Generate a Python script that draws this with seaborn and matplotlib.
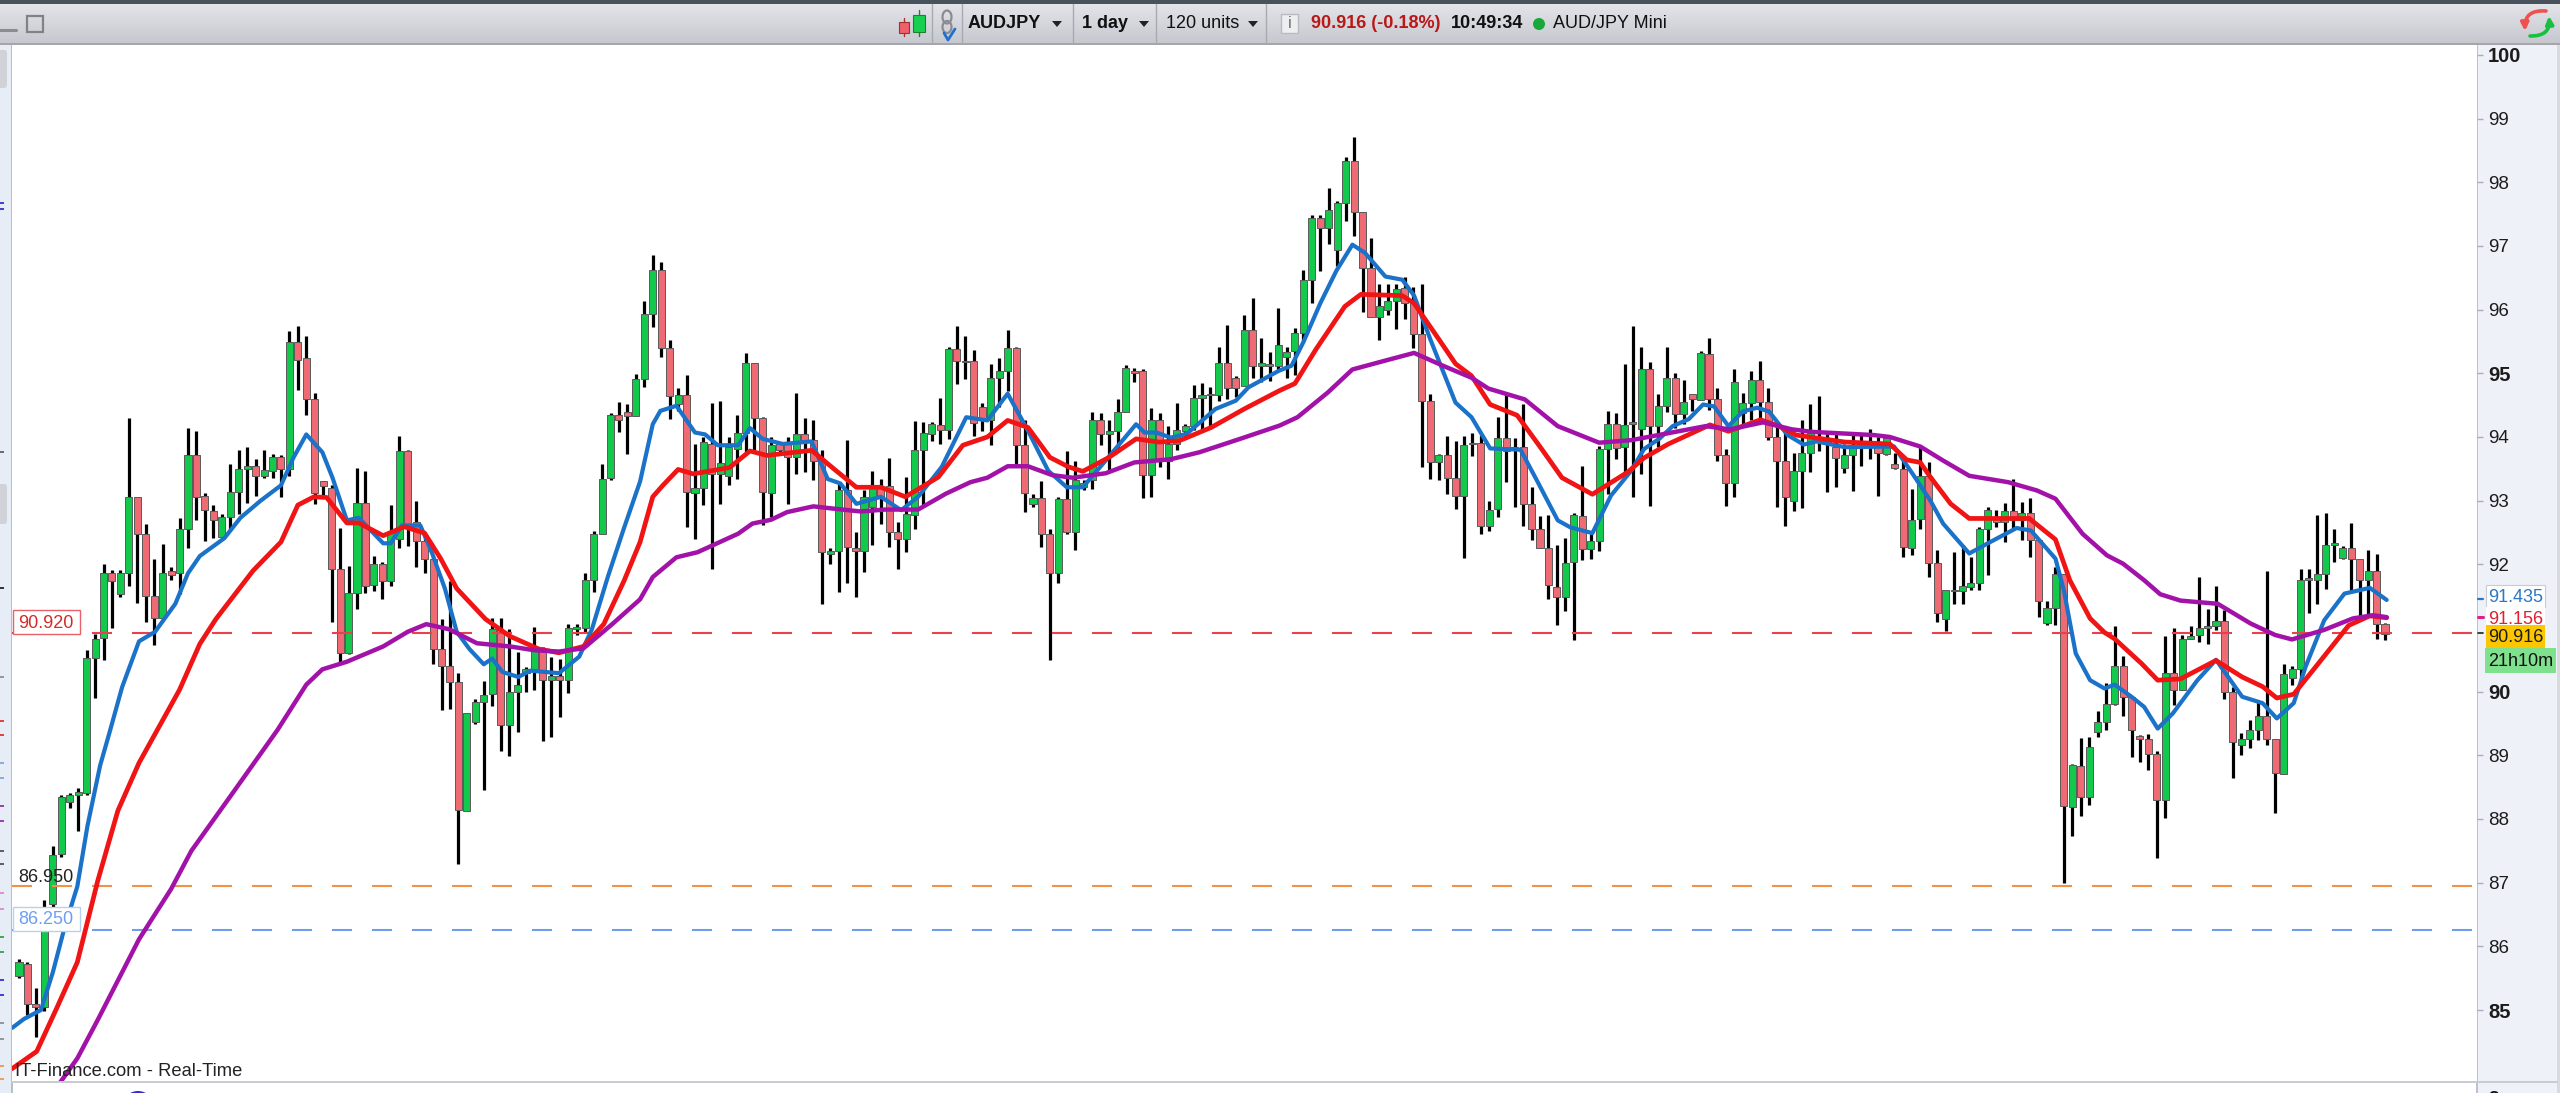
import matplotlib
matplotlib.use("Agg")
import matplotlib.pyplot as plt
from matplotlib.patches import Rectangle, Circle, Ellipse, FancyBboxPatch
import numpy as np
import seaborn as sns

# candles (body top / body bottom / wick high / wick low)
directions = ("GRRGGGGGGG" "GRGGRRRGRG" "GRRRGGGGRG" "GRGRRRRRRG" "GRGRGGRRRR"
              "RRRGGGGRGG" "GGRGRGGGGG" "GRRGGGRRGR" "GGRGGGGRRG" "RRGRRRGGRR"
              "GGRRRGGGGR" "GRRRRGGGRR" "GRRGRGGGRG" "GGRRGRGGGG" "GGGRRGRGGG"
              "GGGGRGGGRR" "RGGGRRRRGR" "RGGRGGRRRR" "RRRGGRGGGR" "GGGRGGRGRG"
              "RRRGGGRRRR" "GGGRRRGGGR" "RGRRGGRRGG" "GGGGRGRGRR" "GGRGRGGGGR"
              "RRRRGRGGGG" "GRRGGGRRGG" "GGGGGGRRGRR")

body_tops = [85.75, 85.73, 85.09, 86.62, 87.43, 88.34, 88.37, 88.42, 90.53, 90.83,
             91.86, 91.86, 91.87, 93.05, 93.05, 92.48, 91.5, 91.87, 91.9, 92.55,
             93.72, 93.72, 93.07, 92.83, 92.75, 93.13, 93.5, 93.54, 93.54, 93.48,
             93.68, 93.68, 95.49, 95.49, 95.24, 94.59, 93.31, 93.2, 91.92, 91.55,
             92.96, 92.96, 92.01, 92.01, 92.49, 93.78, 93.78, 92.67, 92.36, 92.09,
             90.67, 90.41, 90.15, 89.67, 89.83, 89.95, 90.98, 90.97, 89.99, 90.1,
             90.35, 90.67, 90.67, 90.25, 90.25, 91.0, 91.02, 91.76, 92.48, 93.34,
             94.35, 94.35, 94.39, 94.91, 95.93, 96.62, 96.62, 95.4, 94.66, 94.66,
             93.2, 93.92, 93.89, 93.59, 93.84, 94.06, 95.16, 95.16, 94.3, 93.88,
             93.89, 93.89, 94.04, 94.04, 93.95, 93.63, 92.21, 93.17, 93.17, 92.26,
             93.06, 93.21, 93.2, 93.23, 92.5, 92.79, 93.8, 94.06, 94.2, 94.19,
             95.38, 95.38, 95.2, 95.19, 94.47, 94.93, 95.03, 95.4, 95.4, 93.88,
             93.04, 93.04, 92.47, 93.02, 93.02, 93.32, 93.28, 94.27, 94.27, 94.09,
             94.4, 95.08, 95.03, 95.03, 94.27, 94.27, 93.89, 94.11, 94.18, 94.61,
             94.66, 94.68, 95.16, 95.16, 94.93, 95.68, 95.68, 95.16, 95.15, 95.45,
             95.33, 95.63, 96.47, 97.44, 97.44, 97.56, 97.67, 98.33, 98.33, 97.54,
             96.65, 96.05, 96.13, 96.33, 96.34, 96.1, 95.61, 94.56, 93.72, 93.72,
             93.36, 93.88, 93.91, 93.91, 92.86, 93.98, 93.98, 93.84, 93.84, 92.94,
             92.56, 92.26, 91.65, 92.02, 92.77, 92.76, 92.36, 93.81, 94.21, 94.21,
             94.19, 94.24, 95.06, 95.06, 94.48, 94.93, 94.92, 94.55, 94.67, 95.32,
             95.31, 94.6, 93.72, 94.87, 94.53, 94.89, 94.89, 94.55, 94.0, 93.62,
             93.46, 93.75, 94.06, 93.97, 93.95, 93.84, 93.72, 93.85, 93.87, 93.9,
             93.84, 93.99, 93.58, 93.5, 92.7, 93.39, 93.38, 92.02, 91.6, 91.6,
             91.66, 91.71, 92.56, 92.85, 92.73, 92.84, 92.84, 92.8, 92.8, 92.38,
             91.32, 91.84, 91.84, 88.85, 88.83, 89.13, 89.52, 89.81, 90.4, 90.4,
             89.92, 89.31, 89.26, 89.02, 90.3, 90.3, 90.82, 90.88, 91.0, 91.03,
             91.11, 91.11, 89.99, 89.26, 89.39, 89.62, 89.62, 89.26, 90.27, 90.35,
             91.76, 91.79, 91.84, 92.31, 92.33, 92.26, 92.26, 92.08, 91.89, 91.89, 91.06]

body_bottoms = [85.53, 85.10, 85.05, 85.05, 86.66, 87.45, 88.26, 88.37, 88.41, 90.53,
                90.84, 91.74, 91.54, 91.87, 92.48, 91.5, 91.16, 91.16, 91.83, 91.86,
                92.55, 93.05, 92.85, 92.7, 92.43, 92.75, 93.13, 93.5, 93.39, 93.39,
                93.47, 93.5, 93.5, 95.21, 94.59, 93.12, 93.23, 91.92, 90.61, 90.61,
                91.55, 91.66, 91.68, 91.74, 91.74, 92.4, 92.57, 92.36, 92.09, 90.67,
                90.41, 90.15, 88.14, 88.13, 89.52, 89.83, 89.97, 89.48, 89.48, 89.99,
                90.29, 90.35, 90.19, 90.19, 90.19, 90.19, 90.98, 91.0, 91.76, 92.48,
                93.35, 94.27, 94.33, 94.33, 94.91, 95.93, 95.4, 94.64, 94.51, 93.13,
                93.12, 93.2, 93.42, 93.42, 93.39, 93.81, 94.07, 94.3, 93.13, 93.12,
                93.79, 93.68, 93.68, 93.95, 93.63, 92.19, 92.16, 92.21, 92.27, 92.21,
                92.21, 92.9, 93.06, 92.5, 92.39, 92.39, 92.78, 93.8, 94.04, 94.11,
                94.11, 95.19, 95.18, 94.22, 94.27, 94.26, 94.93, 95.03, 93.88, 93.12,
                92.95, 92.47, 91.87, 91.87, 92.5, 92.5, 93.22, 93.32, 94.05, 94.04,
                94.09, 94.4, 95.0, 93.4, 93.4, 93.63, 93.63, 93.89, 94.1, 94.18,
                94.61, 94.66, 94.66, 94.77, 94.77, 94.8, 95.12, 95.12, 95.12, 95.12,
                95.26, 95.35, 95.63, 96.47, 97.28, 97.28, 96.94, 97.67, 97.54, 96.65,
                95.89, 95.89, 96.0, 96.13, 96.1, 95.61, 94.56, 93.6, 93.6, 93.36,
                93.07, 93.08, 93.89, 92.6, 92.6, 92.87, 93.78, 93.81, 92.94, 92.56,
                92.26, 91.67, 91.49, 91.49, 92.03, 92.24, 92.24, 92.36, 93.81, 93.83,
                93.84, 94.2, 94.12, 94.17, 94.17, 94.48, 94.36, 94.36, 94.59, 94.58,
                94.6, 93.72, 93.28, 93.28, 94.37, 94.54, 94.55, 94.0, 93.62, 93.05,
                93.0, 93.47, 93.75, 93.92, 93.89, 93.67, 93.52, 93.72, 93.85, 93.87,
                93.75, 93.74, 93.52, 92.27, 92.26, 92.71, 92.02, 91.24, 91.14, 91.58,
                91.58, 91.64, 91.71, 92.55, 92.66, 92.66, 92.69, 92.69, 92.38, 91.43,
                91.08, 91.32, 88.2, 88.19, 88.34, 88.34, 89.36, 89.52, 89.81, 89.92,
                89.4, 89.26, 89.02, 88.3, 88.3, 90.03, 90.02, 90.82, 90.89, 91.0,
                91.03, 89.99, 89.21, 89.16, 89.26, 89.4, 89.26, 88.72, 88.71, 90.21,
                90.35, 91.76, 91.76, 91.84, 92.31, 92.1, 92.08, 91.75, 91.75, 91.07, 90.91]

highs = [85.8, 85.76, 85.35, 86.72, 87.57, 88.37, 88.41, 88.48, 90.65, 90.9,
         92.0, 91.91, 91.91, 94.3, 93.05, 92.63, 92.08, 92.32, 91.95, 92.73,
         94.14, 94.1, 93.12, 92.93, 92.79, 93.58, 93.8, 93.84, 93.66, 93.8,
         93.74, 93.72, 95.66, 95.74, 95.58, 94.69, 93.31, 93.24, 92.57, 91.97,
         93.52, 93.47, 92.13, 92.03, 92.93, 94.01, 93.8, 92.99, 92.41, 92.13,
         91.14, 91.74, 90.29, 89.67, 89.89, 90.17, 91.16, 91.16, 90.98, 90.63,
         90.39, 91.02, 90.7, 90.55, 90.51, 91.06, 91.06, 91.86, 92.53, 93.58,
         94.38, 94.55, 94.51, 94.99, 96.13, 96.86, 96.75, 95.53, 94.77, 94.98,
         93.89, 94.0, 94.53, 94.56, 94.0, 94.35, 95.32, 95.16, 94.31, 94.0,
         93.92, 94.0, 94.69, 94.3, 94.27, 93.79, 92.25, 93.29, 93.96, 92.51,
         93.16, 93.47, 93.34, 93.67, 92.66, 93.37, 94.25, 94.23, 94.23, 94.61,
         95.41, 95.74, 95.58, 95.37, 94.53, 95.15, 95.24, 95.68, 95.42, 94.26,
         93.11, 93.31, 92.55, 93.06, 93.78, 93.63, 93.32, 94.4, 94.38, 94.27,
         94.59, 95.13, 95.09, 95.06, 94.46, 94.38, 94.17, 94.53, 94.21, 94.82,
         94.85, 94.79, 95.42, 95.76, 94.95, 95.92, 96.18, 95.55, 95.34, 96.02,
         95.42, 95.71, 96.62, 97.48, 97.48, 97.91, 97.7, 98.4, 98.71, 97.54,
         97.12, 96.41, 96.41, 96.41, 96.51, 96.36, 96.4, 94.67, 93.74, 94.02,
         93.94, 94.02, 94.06, 94.03, 93.0, 94.32, 94.68, 93.98, 94.51, 93.22,
         92.76, 92.77, 92.31, 92.41, 92.81, 93.54, 92.47, 93.86, 94.41, 94.38,
         95.14, 95.74, 95.42, 95.18, 94.68, 95.42, 95.0, 94.9, 94.67, 95.35,
         95.56, 94.77, 93.81, 95.06, 94.69, 95.03, 95.19, 94.77, 94.17, 94.12,
         93.75, 94.27, 94.51, 94.64, 94.09, 94.09, 93.89, 94.06, 94.03, 94.13,
         94.0, 94.03, 93.75, 93.67, 93.18, 93.85, 93.6, 92.23, 91.6, 92.19,
         92.31, 92.11, 92.58, 92.9, 92.86, 92.97, 93.34, 92.98, 93.04, 92.4,
         91.43, 91.95, 91.85, 88.86, 89.27, 89.28, 89.7, 90.13, 91.03, 90.56,
         89.92, 89.32, 89.34, 89.07, 90.88, 91.0, 90.89, 91.03, 91.8, 91.3,
         91.66, 91.28, 90.07, 89.35, 89.55, 89.83, 91.9, 89.26, 90.43, 90.41,
         91.92, 91.92, 92.78, 92.81, 92.55, 92.29, 92.65, 92.09, 92.23, 92.16, 91.08]

lows = [85.5, 84.92, 84.58, 84.98, 86.6, 87.41, 88.17, 87.81, 88.38, 89.9,
        90.49, 91.0, 91.48, 91.66, 91.4, 91.1, 90.73, 91.13, 91.76, 91.54,
        92.25, 92.69, 92.37, 92.41, 92.41, 92.53, 92.79, 92.96, 93.07, 93.35,
        93.36, 93.05, 93.39, 94.73, 94.35, 92.95, 93.09, 91.1, 90.45, 90.59,
        91.3, 91.55, 91.58, 91.46, 91.66, 92.25, 92.28, 91.96, 91.86, 90.44,
        89.71, 89.73, 87.3, 88.13, 89.49, 88.45, 89.77, 89.06, 88.99, 89.36,
        89.99, 90.03, 89.22, 89.28, 89.6, 89.98, 90.89, 90.94, 91.56, 92.82,
        93.32, 94.08, 93.74, 94.33, 94.78, 95.72, 95.25, 94.28, 94.41, 92.59,
        92.4, 92.93, 91.93, 92.95, 93.24, 93.34, 93.76, 93.79, 92.62, 92.74,
        93.72, 92.95, 93.42, 93.45, 93.32, 91.38, 92.01, 91.57, 91.7, 91.49,
        91.88, 92.3, 92.64, 92.27, 91.93, 92.2, 92.56, 92.9, 93.94, 93.89,
        93.97, 94.83, 94.91, 94.02, 94.1, 93.87, 94.47, 94.72, 93.58, 92.82,
        92.9, 92.27, 90.5, 91.7, 92.48, 92.22, 93.17, 93.19, 93.87, 93.46,
        93.79, 94.39, 94.86, 93.04, 93.06, 93.53, 93.34, 93.79, 93.97, 94.11,
        94.11, 94.18, 94.57, 94.6, 94.62, 94.8, 94.93, 94.86, 94.88, 95.04,
        94.92, 94.98, 95.49, 96.1, 96.61, 97.03, 96.69, 97.39, 97.16, 95.96,
        95.89, 95.52, 95.91, 95.7, 95.85, 95.4, 93.53, 93.34, 93.32, 93.11,
        92.87, 92.1, 93.7, 92.48, 92.53, 92.75, 93.3, 92.9, 92.6, 92.38,
        92.26, 91.46, 91.05, 91.26, 90.81, 92.06, 92.09, 92.21, 93.11, 93.65,
        93.42, 93.05, 93.42, 92.92, 93.84, 94.4, 94.14, 94.2, 94.41, 94.58,
        94.42, 93.63, 92.92, 93.05, 94.2, 94.26, 94.28, 93.95, 92.9, 92.6,
        92.83, 92.88, 93.45, 93.78, 93.14, 93.22, 93.43, 93.15, 93.54, 93.65,
        93.08, 93.72, 93.5, 92.12, 92.14, 92.56, 91.8, 91.09, 90.96, 91.38,
        91.38, 91.59, 91.59, 91.83, 92.58, 92.35, 92.57, 92.38, 92.11, 91.17,
        91.04, 91.04, 86.99, 87.73, 88.04, 88.22, 89.29, 89.4, 89.79, 89.61,
        88.98, 88.9, 88.77, 87.39, 88.01, 89.79, 90.02, 90.82, 90.78, 90.75,
        90.97, 89.89, 88.64, 89.0, 89.11, 89.24, 89.16, 88.09, 88.71, 90.1,
        90.18, 91.23, 91.38, 91.62, 92.04, 92.09, 91.57, 91.17, 91.17, 90.83, 90.81]

# moving averages, vertices
blue_x = [-0.8, 0.6, 2.6, 4, 5.4, 6.9, 8.1, 9.6, 10.8, 12.2, 14.2, 16.1, 18.5, 20, 21.4, 24.3, 26.2, 28.6,
          31, 32.5, 34, 35.9, 37.1, 38.8, 40.2, 43.1, 44, 45.3, 47.5, 48.9, 50.4, 51.8, 53.3, 55, 56, 57.2,
          59.1, 60.5, 63.9, 66.3, 67.8, 69.7, 71.6, 73.5, 75, 75.9, 77.8, 80, 81.2, 82.7, 85.1, 86.5, 88,
          90.4, 93.8, 95.7, 97.2, 99.1, 102, 104.4, 106.4, 109.2, 112.1, 114.6, 117, 119.4, 121.8, 124,
          125.9, 128.6, 132.2, 133.2, 134.6, 136.3, 138.2, 141.6, 144, 145.5, 149.1, 150.6, 152, 154, 155.9,
          157.8, 159.3, 161.7, 163.7, 165.1, 167, 170, 171.9, 174.1, 177.7, 179.7, 182.1, 183.6, 186.2,
          188.4, 190.8, 192.3, 194.2, 195.7, 197.6, 199.3, 200.6, 202.3, 204, 205.7, 207.1, 209.3, 211.2,
          212.7, 216.1, 221.9, 224.1, 226.2, 227.7, 230.8, 233, 236.4, 238.1, 241, 242, 243.4, 245.1, 246.8,
          248, 250, 251.5, 253.1, 254.9, 257.8, 260, 263.1, 265.5, 267.2, 269.2, 270.6, 272.8, 275.2, 278.2, 280.2]
blue_y = [84.72, 84.86, 85.0, 85.59, 86.3, 86.94, 87.89, 88.84, 89.4, 90.07, 90.79, 90.94, 91.38, 91.86, 92.13,
          92.41, 92.73, 93.0, 93.24, 93.68, 94.04, 93.76, 93.36, 92.69, 92.73, 92.33, 92.33, 92.61, 92.61,
          92.17, 91.62, 90.94, 90.67, 90.43, 90.52, 90.31, 90.23, 90.33, 90.29, 90.55, 90.98, 91.81, 92.57,
          93.3, 94.2, 94.41, 94.49, 94.07, 94.04, 93.87, 93.87, 94.14, 93.97, 93.89, 93.93, 93.34, 93.27,
          92.95, 93.06, 92.85, 93.06, 93.53, 94.31, 94.26, 94.68, 94.1, 93.47, 93.21, 93.21, 93.63, 94.2,
          94.07, 94.07, 93.99, 94.05, 94.44, 94.57, 94.78, 95.04, 95.12, 95.49, 96.1, 96.61, 97.02, 96.89,
          96.52, 96.47, 96.22, 95.54, 94.54, 94.31, 93.82, 93.8, 93.3, 92.69, 92.58, 92.49, 93.08, 93.47,
          93.81, 93.98, 94.17, 94.28, 94.51, 94.48, 94.17, 94.4, 94.46, 94.4, 94.03, 93.88, 93.93, 93.84,
          93.85, 93.42, 93.0, 92.64, 92.17, 92.33, 92.57, 92.53, 92.09, 91.59, 90.6, 90.18, 90.05, 90.11,
          89.92, 89.76, 89.42, 89.66, 90.18, 90.5, 89.92, 89.82, 89.58, 89.82, 90.39, 91.12, 91.54, 91.63, 91.44]

red_x = [-0.8, 2.1, 4.5, 6.9, 9.3, 11.7, 14.2, 17.5, 19, 21.4, 23.3, 27.7, 31, 33, 34.9, 36.4, 38.8, 40.2, 43.1,
         45.6, 48, 49.9, 51.8, 55.2, 58.1, 61.5, 63.9, 66.8, 69.2, 71.6, 73.5, 75, 76.2, 78, 79.8, 84.1, 86.5,
         88.5, 93.8, 96.7, 99.1, 102, 104.9, 108.8, 111.7, 114.6, 117, 119.4, 122, 124.2, 125.9, 129, 132.2,
         134.9, 137.3, 141.1, 145, 149.2, 151, 153.5, 156.9, 158.8, 163.7, 165.1, 168, 170, 171.9, 174.1,
         177.3, 180.2, 182.6, 186.2, 190.4, 192.3, 195.2, 200.1, 202.3, 206.1, 208.3, 210.3, 216.1, 221.4,
         223.4, 225, 226.2, 228.6, 230.8, 233.5, 237.9, 241, 242.7, 245.1, 246.8, 248, 251.2, 253.1, 255.8,
         260, 263.1, 265.5, 267.2, 269.2, 271.8, 275.7, 278.2, 280.2]
red_y = [84.08, 84.35, 85.04, 85.75, 87.02, 88.13, 88.88, 89.67, 90.03, 90.75, 91.14, 91.9, 92.35, 92.93, 93.06,
         93.05, 92.65, 92.65, 92.45, 92.59, 92.49, 92.09, 91.62, 91.14, 90.87, 90.67, 90.61, 90.71, 91.06,
         91.74, 92.35, 93.06, 93.24, 93.49, 93.42, 93.52, 93.78, 93.71, 93.79, 93.47, 93.21, 93.21, 93.06,
         93.37, 93.87, 94.0, 94.26, 94.15, 93.68, 93.53, 93.46, 93.68, 93.97, 93.92, 93.94, 94.15, 94.44,
         94.73, 94.84, 95.38, 96.05, 96.24, 96.22, 96.1, 95.54, 95.15, 94.96, 94.51, 94.34, 93.81, 93.36,
         93.1, 93.45, 93.67, 93.89, 94.19, 94.09, 94.27, 94.17, 94.03, 93.92, 93.89, 93.64, 93.6, 93.37,
         92.95, 92.72, 92.72, 92.72, 92.39, 91.75, 91.15, 90.93, 90.83, 90.44, 90.18, 90.2, 90.49, 90.23,
         90.08, 89.9, 89.96, 90.39, 91.04, 91.19, 91.16]

purple_x = [4, 6.9, 9.3, 14.2, 18, 20.4, 25.3, 30.6, 34, 35.9, 38.8, 43.1, 46, 48.2, 50.9, 54.2, 58.1, 61, 63.9,
            66.8, 70.2, 73.5, 75, 77.8, 80.3, 85.1, 86.8, 89, 90.9, 94, 96.7, 99.6, 102.5, 106.4, 109.7, 112.6,
            114.6, 117, 119.4, 122.3, 124.7, 128.6, 132, 136.3, 139.7, 144.5, 149.2, 151.3, 154.9, 157.8, 161.7,
            165.1, 168.5, 171.9, 173.9, 178.2, 182.1, 187, 190.8, 195.2, 199.6, 202.5, 206.4, 209.8, 212.2,
            219.5, 221.4, 225, 227.7, 230.8, 235.4, 238.8, 241, 244.2, 247.1, 249, 251.5, 253.4, 255.8, 260.2,
            264.1, 267, 269, 272.8, 276.2, 278.6, 280.2]
purple_y = [83.7, 84.24, 84.84, 86.11, 86.9, 87.5, 88.41, 89.4, 90.11, 90.35, 90.47, 90.71, 90.94, 91.06, 90.98,
            90.76, 90.71, 90.65, 90.63, 90.68, 91.06, 91.45, 91.8, 92.11, 92.19, 92.48, 92.64, 92.7, 92.82,
            92.91, 92.87, 92.83, 92.86, 92.86, 93.11, 93.29, 93.36, 93.54, 93.54, 93.4, 93.36, 93.43, 93.6,
            93.65, 93.76, 93.97, 94.18, 94.31, 94.7, 95.06, 95.2, 95.32, 95.12, 94.93, 94.76, 94.59, 94.17,
            93.91, 93.95, 94.06, 94.17, 94.12, 94.23, 94.12, 94.08, 94.03, 94.0, 93.85, 93.63, 93.39, 93.29,
            93.16, 93.03, 92.48, 92.14, 92.01, 91.75, 91.53, 91.43, 91.38, 91.07, 90.89, 90.82, 90.97, 91.15,
            91.2, 91.17]

y_ticks = [85, 86, 87, 88, 89, 90, 92, 93, 94, 95, 96, 97, 98, 99, 100]
bold_ticks = [85, 90, 95, 100]
level_values = [90.92, 86.95, 86.25]
level_colors = ['#e8414c', '#f0924a', '#6f9ef0']

W, H = 2560, 1093
sns.set_theme(style="white")
plt.rcParams['font.family'] = ['Liberation Sans', 'DejaVu Sans']

fig = plt.figure(figsize=(W / 100, H / 100), dpi=100, facecolor='white')


def px_axes(zorder):
    a = fig.add_axes([0, 0, 1, 1], zorder=zorder)
    a.set_xlim(0, W)
    a.set_ylim(H, 0)
    a.axis('off')
    a.patch.set_alpha(0)
    return a


back = px_axes(0)

# side panels and toolbar chrome
back.add_patch(Rectangle((0, 44), 11, H, color='#e6edf6', lw=0))
back.add_patch(Rectangle((11, 44), 2, H, color='#b8bdc6', lw=0))
back.add_patch(Rectangle((2477, 44), 80, H, color='#eef1f8', lw=0))
back.add_patch(Rectangle((2476, 44), 2, H, color='#bcc2cc', lw=0))
back.add_patch(Rectangle((2557, 44), 3, H, color='#d8dade', lw=0))
back.add_patch(FancyBboxPatch((-6, 50), 13, 38, boxstyle='round,pad=0,rounding_size=3', color='#d0d2d8', lw=0))
back.add_patch(FancyBboxPatch((-6, 484), 13, 40, boxstyle='round,pad=0,rounding_size=3', color='#d0d2d8', lw=0))
side_marks = [(452, '#555'), (588, '#111'), (677, '#888'), (721, '#e02020'), (735, '#e02020'), (763, '#7a9ee0'),
              (778, '#7a9ee0'), (806, '#9020a0'), (821, '#9020a0'), (851, '#444'), (864, '#444'), (893, '#e080c0'),
              (909, '#e080c0'), (937, '#20a030'), (952, '#20a030'), (980, '#2020d0'), (995, '#2020d0'),
              (1023, '#888'), (1039, '#888'), (1066, '#f09040'), (1079, '#f09040'), (203, '#2020d0'), (209, '#2020d0')]
for my, mc in side_marks:
    back.plot([0, 4], [my, my], color=mc, lw=1.2, solid_capstyle='butt')

ax = fig.add_axes([12 / W, 1 - 1082 / H, (2477 - 12) / W, (1082 - 44) / H], zorder=1)
ax.set_facecolor('white')

idx = np.arange(len(body_tops))
tops = np.array(body_tops)
bottoms = np.array(body_bottoms)
colors = ['#12c94c' if d == 'G' else '#ee6b74' for d in directions]

ax.vlines(idx, lows, highs, color='black', lw=2.3, zorder=2)
ax.bar(idx, tops - bottoms, bottom=bottoms, width=0.84, color=colors, edgecolor='#5a5a5a', linewidth=0.7, zorder=3)

for level, lc in zip(level_values, level_colors):
    ax.axhline(level, color=lc, lw=1.5, linestyle=(0, (9.6, 9.6)), zorder=4)

sns.lineplot(x=blue_x, y=blue_y, ax=ax, color='#1a72c9', linewidth=3.0, estimator=None, sort=False, zorder=5,
             solid_joinstyle='round')
sns.lineplot(x=red_x, y=red_y, ax=ax, color='#f01414', linewidth=3.4, estimator=None, sort=False, zorder=6,
             solid_joinstyle='round')
sns.lineplot(x=purple_x, y=purple_y, ax=ax, color='#a212a8', linewidth=3.2, estimator=None, sort=False, zorder=7,
             solid_joinstyle='round')

ax.set_xlim((12 - 19) / 8.45, (2477 - 19) / 8.45)
ax.set_ylim(85 + (1010 - 1082) / 63.67, 85 + (1010 - 44) / 63.67)
ax.set_xticks([])
ax.set_yticks(y_ticks)
ax.yaxis.tick_right()
ax.tick_params(axis='y', right=True, length=4.5, width=1, color='#a8aeb8', pad=3.5, labelsize=13.5, labelcolor='#1c1c1c')
for lab, val in zip(ax.get_yticklabels(), y_ticks):
    if val in bold_ticks:
        lab.set_fontweight('bold')
        lab.set_fontsize(14.5)
for side in ax.spines.values():
    side.set_visible(False)

front = px_axes(5)

# toolbar
grad = np.linspace(0, 1, 44).reshape(-1, 1)
front.imshow(grad, cmap=sns.blend_palette(['#e6e7ec', '#c6c8cf'], as_cmap=True), extent=(0, W, 44, 0), aspect='auto', zorder=0)
front.set_xlim(0, W)
front.set_ylim(H, 0)
front.add_patch(Rectangle((0, 0), W, 4, color='#47525c', lw=0, zorder=1))
front.add_patch(Rectangle((0, 43), W, 2, color='#a4a6ac', lw=0, zorder=1))
for sx in [932, 962, 1073, 1156, 1266]:
    front.plot([sx, sx], [4, 43], color='#a8aab0', lw=1, zorder=1)
front.plot([0, 16], [30, 30], color='#8a8c92', lw=2.2, zorder=2)
front.add_patch(Rectangle((27, 16), 16, 16, fc='none', ec='#808288', lw=1.6, zorder=2))

# candle icon and chain icon
front.plot([904, 904], [18, 36], color='#b03030', lw=1, zorder=2)
front.add_patch(Rectangle((899, 22), 10, 11, fc='#f0606a', ec='#a03030', lw=0.8, zorder=3))
front.plot([919, 919], [10, 36], color='#208030', lw=1, zorder=2)
front.add_patch(Rectangle((913, 15), 12, 17, fc='#18d050', ec='#208030', lw=0.8, zorder=3))
front.add_patch(Ellipse((947, 17), 9, 13, fc='none', ec='#8a8c92', lw=1.6, zorder=2))
front.add_patch(Ellipse((947, 27), 9, 12, fc='none', ec='#8a8c92', lw=1.6, zorder=2))
front.plot([944, 948, 955], [33, 40, 29], color='#2070d0', lw=2, zorder=3)

# toolbar text
front.text(968, 24, 'AUDJPY', fontsize=13, fontweight='bold', color='#111', va='center', zorder=3)
front.text(1082, 23, '1 day', fontsize=13, fontweight='bold', color='#111', va='center', zorder=3)
front.text(1166, 24, '120 units', fontsize=13, color='#111', va='center', zorder=3)
for ax_x in [1057, 1144, 1253]:
    front.fill([ax_x - 5, ax_x + 5, ax_x], [21, 21, 27], color='#222', lw=0, zorder=3)
front.add_patch(Rectangle((1281, 14), 17, 19, fc='#eceef0', ec='#b8bac0', lw=1, zorder=2))
front.text(1289.5, 24, 'i', fontsize=12, color='#707070', ha='center', va='center', zorder=3)
front.text(1311, 24, '90.916 (-0.18%)', fontsize=13, fontweight='bold', color='#b81818', va='center', zorder=3)
front.text(1451, 24, '10:49:34', fontsize=13, fontweight='bold', color='#111', va='center', zorder=3)
front.add_patch(Circle((1539, 24), 6, color='#18a838', lw=0, zorder=3))
front.text(1553, 24, 'AUD/JPY Mini', fontsize=13, color='#111', va='center', zorder=3)

# refresh arrows, top right
front.annotate('', xy=(2525, 31), xytext=(2546, 11), zorder=3,
               arrowprops=dict(arrowstyle='-|>', color='#f05050', lw=2.6, mutation_scale=11,
                               shrinkA=0, shrinkB=0, connectionstyle='arc3,rad=0.55'))
front.annotate('', xy=(2549, 16), xytext=(2530, 36), zorder=3,
               arrowprops=dict(arrowstyle='-|>', color='#18c040', lw=2.6, mutation_scale=11,
                               shrinkA=0, shrinkB=0, connectionstyle='arc3,rad=0.55'))

# boxes on the price levels, left side
front.add_patch(Rectangle((13, 610), 67, 24, fc='white', ec='#e8606a', lw=1))
front.text(18, 623, '90.920', fontsize=13, color='#d42a2a', va='center')
front.text(18, 877, '86.950', fontsize=13, color='#222', va='center')
front.add_patch(Rectangle((13, 907), 67, 24, fc='white', ec='#b8d0f0', lw=1))
front.text(18, 920, '86.250', fontsize=13, color='#6f9ef0', va='center')

# value tags on the price axis
front.add_patch(Rectangle((2486, 585), 59, 22, fc='white', ec='#c8ccd2', lw=0.8))
front.text(2488, 597, '91.435', fontsize=13, color='#2a78c8', va='center')
front.add_patch(Rectangle((2486, 607), 59, 20, fc='white', lw=0))
front.text(2488, 619, '91.156', fontsize=13, color='#e02030', va='center')
front.add_patch(Rectangle((2486, 625), 59, 23, fc='#fcc600', lw=0))
front.text(2488, 637, '90.916', fontsize=13, color='#1c1c1c', va='center')
front.add_patch(Rectangle((2485, 648), 71, 25, fc='#7fe08e', lw=0))
front.text(2488, 661, '21h10m', fontsize=13, color='#111', va='center')
front.plot([2478, 2483], [599, 599], color='#2a78c8', lw=1.6)
front.plot([2478, 2483], [617, 617], color='#e0208a', lw=2.2)
front.plot([2478, 2483], [633, 633], color='#222', lw=1.2)

# bottom of the chart
front.plot([12, 2557], [1082, 1082], color='#c8ccd2', lw=1.4)
front.text(15, 1072, 'IT-Finance.com - Real-Time', fontsize=13.2, color='#222', va='center')
front.text(2488, 1091, '8', fontsize=13.5, fontweight='bold', color='#111', va='top', clip_on=True)
front.add_patch(Ellipse((138, 1103), 28, 24, fc='#3a2cc8', lw=0))

fig.savefig('out.png', dpi=100)
